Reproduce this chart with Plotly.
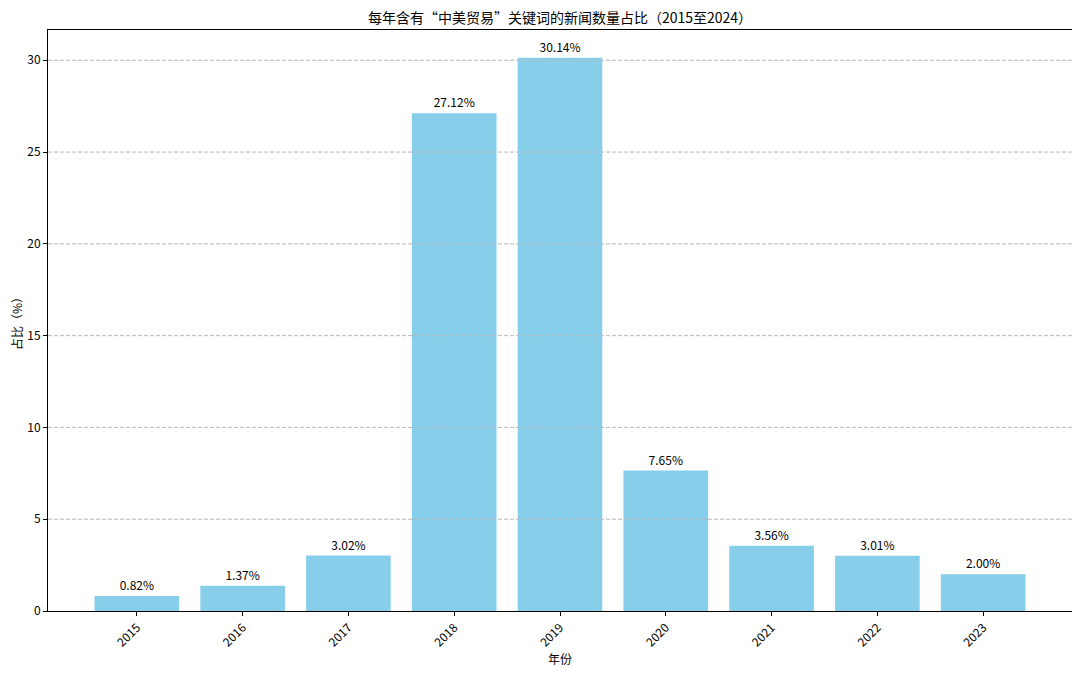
import plotly.graph_objects as go

# Share of news mentioning "中美贸易" each year
years = ["2015", "2016", "2017", "2018", "2019", "2020", "2021", "2022", "2023"]
shares = [0.82, 1.37, 3.02, 27.12, 30.14, 7.65, 3.56, 3.01, 2.00]
y_ticks = [0, 5, 10, 15, 20, 25, 30]

font_cn = "Noto Sans CJK SC, SimHei, sans-serif"

fig = go.Figure()
fig.add_trace(go.Bar(
    x=list(range(len(years))), y=shares,
    width=0.8,
    marker=dict(color="#87CEEB", line=dict(width=0)),
    text=[f"{v:.2f}%" for v in shares],
    textposition="outside",
    textfont=dict(size=12, color="#000000", family=font_cn),
    cliponaxis=False,
))

# dashed grid drawn over the bars, as in the original
for t in y_ticks[1:]:
    fig.add_shape(type="line", xref="paper", x0=0, x1=1, yref="y", y0=t, y1=t,
                  line=dict(color="#b8b8b8", width=1, dash="4px,2px"), layer="above")

# page body has an 8px margin, so margins are offset to line up with the original
fig.update_layout(
    width=1080, height=673,
    margin=dict(l=40, r=16, t=22, b=70, autoexpand=False),
    paper_bgcolor="white", plot_bgcolor="white",
    font=dict(family=font_cn, size=12, color="#000000"),
    title=dict(text="每年含有“中美贸易”关键词的新闻数量占比（2015至2024）",
               x=0.5, xref="paper", xanchor="center", y=0.985, yanchor="middle",
               font=dict(size=14)),
    showlegend=False,
    bargap=0.2,
)
fig.update_xaxes(
    range=[-0.84, 8.84],
    tickvals=list(range(len(years))), ticktext=years,
    tickangle=-45, ticks="outside", ticklen=4, tickcolor="#000",
    showline=True, linecolor="#000", linewidth=1, mirror=True,
    showgrid=False, zeroline=False, automargin=False,
    title=dict(text="年份", font=dict(size=12), standoff=6),
)
fig.update_yaxes(
    range=[0, 31.65],
    tickvals=y_ticks,
    ticks="outside", ticklen=4, tickcolor="#000",
    showline=True, linecolor="#000", linewidth=1, mirror=True,
    showgrid=False, zeroline=False, automargin=False,
    title=dict(text="占比（%）", font=dict(size=12), standoff=8),
)

fig.write_html("out.html")
